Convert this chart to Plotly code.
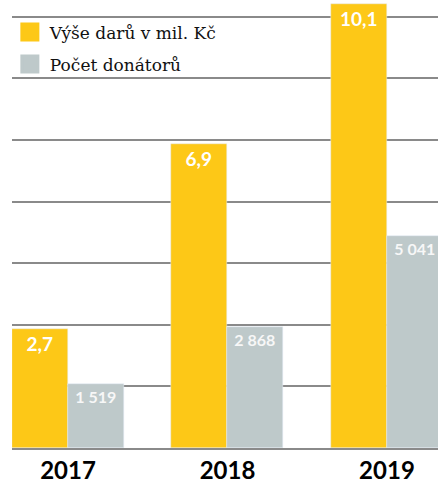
import plotly.graph_objects as go

years = ["2017", "2018", "2019"]
donations = [2.7, 6.9, 10.1]          # Výše darů v mil. Kč
donors = [1519, 2868, 5041]           # Počet donátorů
name_don = "Výše darů v mil. Kč"
name_cnt = "Počet donátorů"

YELLOW = "#FDC817"
GRAY = "#BEC9CA"
GRID = "#8A8A8A"

fig = go.Figure()
fig.add_trace(go.Bar(
    x=years, y=donations, name=name_don, marker_color=YELLOW,
    width=0.351, offset=-0.351, showlegend=False,
    texttemplate="%{y:,.1f}", textposition="inside", insidetextanchor="end",
    textfont=dict(family="Lato", size=19, color="white", weight="bold"),
    textangle=0, yaxis="y", hoverinfo="skip",
))
fig.add_trace(go.Bar(
    x=years, y=donors, name=name_cnt, marker_color=GRAY,
    width=0.351, offset=0, showlegend=False,
    texttemplate="%{y:,}", textposition="inside", insidetextanchor="end",
    textfont=dict(family="Lato", size=16, color="#F7F7F7", weight="bold"),
    textangle=0, yaxis="y2", hoverinfo="skip",
))
# legend entries (square swatches)
for nm, col in [(name_don, YELLOW), (name_cnt, GRAY)]:
    fig.add_trace(go.Scatter(
        x=[None], y=[None], mode="markers", name=nm, legendgroup=nm,
        marker=dict(symbol="square", size=16, color=col, line=dict(width=3, color=col)),
    ))

fig.update_layout(
    width=438, height=487,
    margin=dict(l=12, r=0, t=0, b=39),
    plot_bgcolor="white", paper_bgcolor="white",
    separators=", ",
    showlegend=True,
    legend=dict(x=-0.005, y=0.968, xanchor="left", yanchor="top", itemsizing="trace",
                font=dict(family="DejaVu Serif", size=17, color="#111"),
                bgcolor="rgba(255,255,255,0)", tracegroupgap=7),
    xaxis=dict(type="category", range=[-0.351, 2.32], showgrid=False,
               showline=True, linecolor=GRID, linewidth=1.5,
               ticks="", tickfont=dict(family="Lato", size=24, color="black", weight="bold")),
    yaxis=dict(range=[0, 10.18], dtick=1.4, tick0=0, showgrid=True,
               gridcolor=GRID, gridwidth=1.5, showticklabels=False, zeroline=False),
    yaxis2=dict(range=[0, 10650], overlaying="y", side="right", showgrid=False,
                showticklabels=False, zeroline=False),
    bargap=0,
)

fig.write_html("out.html", config={"displayModeBar": False},
               post_script="document.body.style.margin='0px';")
